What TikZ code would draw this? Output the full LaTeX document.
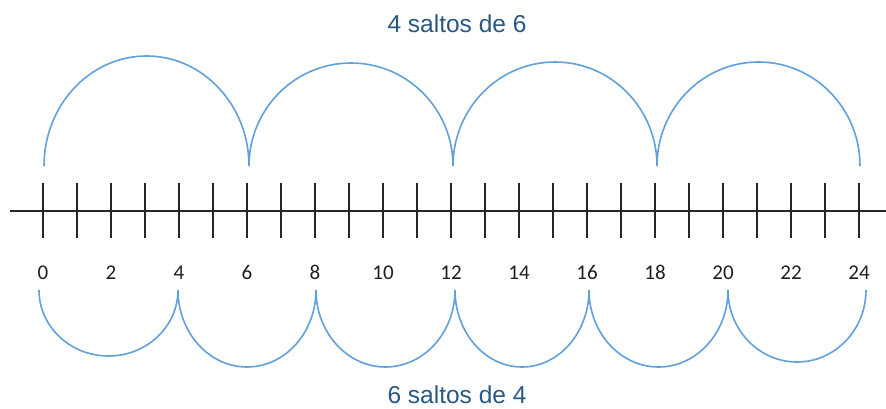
\documentclass[tikz,border=0pt]{standalone}
\usepackage{fontspec}
\setmainfont{Carlito}
\newfontfamily\titlefont{Liberation Sans}
\definecolor{jumpblue}{RGB}{98,160,218}
\definecolor{titleblue}{RGB}{40,88,132}
\definecolor{numgray}{RGB}{30,30,30}
\begin{document}
\begin{tikzpicture}[x=1pt,y=1pt,
  axisline/.style={line width=1.5pt, draw=black!85},
  tickline/.style={line width=1.5pt, draw=black!85},
  jump/.style={line width=1.6pt, draw=jumpblue},
  numlabel/.style={font=\fontsize{21}{23}\selectfont, text=numgray, anchor=base, inner sep=0pt},
  titlelabel/.style={font=\titlefont\fontsize{24.5}{26}\selectfont, text=titleblue, anchor=base, inner sep=0pt}]
\useasboundingbox (0,0) rectangle (886,408);
% axis
\coordinate (axL) at (10,197);
\coordinate (axR) at (886,197);
\draw[axisline] (axL) -- (axR);
% ticks and labels
\foreach \k in {0,...,24}{
  \coordinate (t\k) at ({43+34*\k},197);
  \draw[tickline] ([yshift=28pt]t\k) -- ([yshift=-27pt]t\k);
}
\foreach \k in {0,2,...,24}{
  \node[numlabel] (n\k) at ({43+34*\k},129) {\k};
}
% top jumps (4 saltos de 6)
\coordinate (u0) at (44,242);
\coordinate (u1) at (249,242);
\coordinate (u2) at (453,242);
\coordinate (u3) at (657,242);
\draw[jump] (u0) arc[start angle=180,end angle=0,x radius=102.5pt,y radius=110pt];
\draw[jump] (u1) arc[start angle=180,end angle=0,x radius=102pt,y radius=103pt];
\draw[jump] (u2) arc[start angle=180,end angle=0,x radius=102pt,y radius=104pt];
\draw[jump] (u3) arc[start angle=180,end angle=0,x radius=101.5pt,y radius=104pt];
% bottom jumps (6 saltos de 4)
\coordinate (b0) at (39,118);
\coordinate (b1) at (178,118);
\coordinate (b2) at (316,118);
\coordinate (b3) at (455,118);
\coordinate (b4) at (589,118);
\coordinate (b5) at (728,118);
\draw[jump] (b0) arc[start angle=180,end angle=360,x radius=69.5pt,y radius=66pt];
\draw[jump] (b1) arc[start angle=180,end angle=360,x radius=69pt,y radius=77pt];
\draw[jump] (b2) arc[start angle=180,end angle=360,x radius=69.5pt,y radius=77pt];
\draw[jump] (b3) arc[start angle=180,end angle=360,x radius=67pt,y radius=77pt];
\draw[jump] (b4) arc[start angle=180,end angle=360,x radius=69.5pt,y radius=77pt];
\draw[jump] (b5) arc[start angle=180,end angle=360,x radius=69pt,y radius=72pt];
% titles
\node[titlelabel] (toptitle) at (457,375) {4 saltos de 6};
\node[titlelabel] (bottomtitle) at (457,5) {6 saltos de 4};
\end{tikzpicture}
\end{document}
